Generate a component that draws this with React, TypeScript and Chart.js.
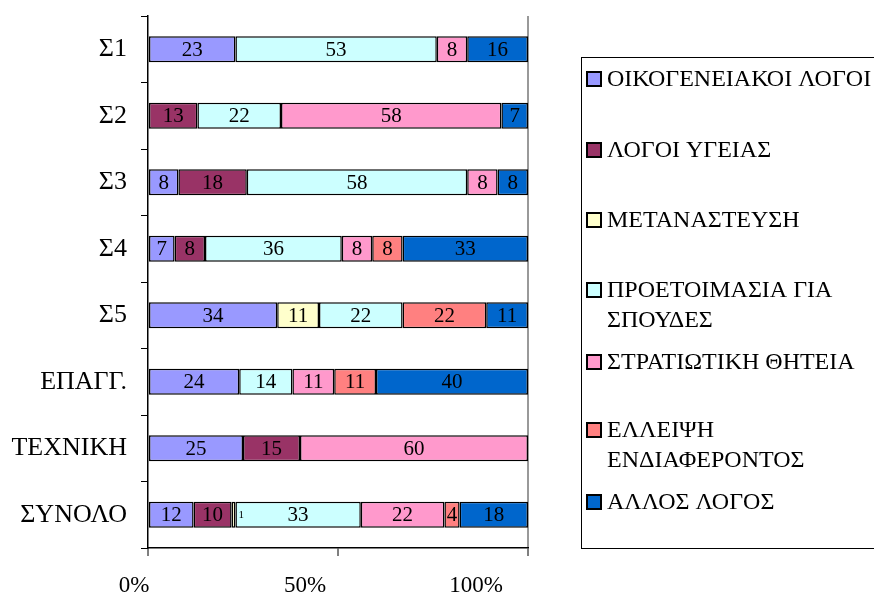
import React, { useEffect, useRef } from 'react';
import { Chart, registerables } from 'chart.js';

Chart.register(...registerables);

const categories = ['Σ1', 'Σ2', 'Σ3', 'Σ4', 'Σ5', 'ΕΠΑΓΓ.', 'ΤΕΧΝΙΚΗ', 'ΣΥΝΟΛΟ'];

const familyReasons = [23, null, 8, 7, 34, 24, 25, 12];
const healthReasons = [null, 13, 18, 8, null, null, 15, 10];
const emigration = [null, null, null, null, 11, null, null, 1];
const studyPrep = [53, 22, 58, 36, 22, 14, null, 33];
const military = [8, 58, 8, 8, null, 11, 60, 22];
const lackOfInterest = [null, null, null, 8, 22, 11, null, 4];
const otherReason = [16, 7, 8, 33, 11, 40, null, 18];

const seriesLabels: string[][] = [
  ['ΟΙΚΟΓΕΝΕΙΑΚΟΙ ΛΟΓΟΙ'],
  ['ΛΟΓΟΙ ΥΓΕΙΑΣ'],
  ['ΜΕΤΑΝΑΣΤΕΥΣΗ'],
  ['ΠΡΟΕΤΟΙΜΑΣΙΑ ΓΙΑ', 'ΣΠΟΥΔΕΣ'],
  ['ΣΤΡΑΤΙΩΤΙΚΗ ΘΗΤΕΙΑ'],
  ['ΕΛΛΕΙΨΗ', 'ΕΝΔΙΑΦΕΡΟΝΤΟΣ'],
  ['ΑΛΛΟΣ ΛΟΓΟΣ'],
];
const seriesColors = ['#9999FF', '#993366', '#FFFFCC', '#CCFFFF', '#FF99CC', '#FF8080', '#0066CC'];

const xTicks = [0, 50, 100];

const FONT = "'Liberation Serif', 'Times New Roman', serif";

const valueLabelPlugin = {
  id: 'valueLabels',
  afterDatasetsDraw(chart: any) {
    const ctx = chart.ctx;
    ctx.save();
    ctx.fillStyle = '#000';
    ctx.textBaseline = 'middle';
    chart.data.datasets.forEach((ds: any, di: number) => {
      const meta = chart.getDatasetMeta(di);
      meta.data.forEach((el: any, i: number) => {
        const v = ds.data[i];
        if (v == null) return;
        const p = el.getCenterPoint();
        const w = Math.abs(el.x - el.base);
        if (w < 10) {
          ctx.font = `11px ${FONT}`;
          ctx.textAlign = 'left';
          ctx.fillText(String(v), Math.max(el.x, el.base) + 3, p.y);
        } else {
          ctx.font = `21px ${FONT}`;
          ctx.textAlign = 'center';
          ctx.fillText(String(v), p.x, p.y + 1);
        }
      });
    });
    ctx.restore();
  },
};

const xLabelPlugin = {
  id: 'xLabels',
  afterDraw(chart: any) {
    const ctx = chart.ctx;
    const s = chart.scales.x;
    ctx.save();
    ctx.fillStyle = '#000';
    ctx.font = `23px ${FONT}`;
    ctx.textAlign = 'center';
    ctx.textBaseline = 'middle';
    xTicks.forEach((v) => {
      const px = s.getPixelForValue(v);
      ctx.fillText(v + '%', px - 14 - (v / 100) * 38, 586);
    });
    ctx.restore();
  },
};

const legendY = [79, 150, 220, 290, 362, 430, 502];

const boxLegendPlugin = {
  id: 'boxLegend',
  afterDraw(chart: any) {
    const ctx = chart.ctx;
    ctx.save();
    ctx.strokeStyle = '#000';
    ctx.lineWidth = 1;
    ctx.strokeRect(581.5, 57.5, 400, 491);
    chart.data.datasets.forEach((ds: any, i: number) => {
      const y = legendY[i];
      ctx.fillStyle = ds.backgroundColor;
      ctx.fillRect(587, y - 7, 14, 14);
      ctx.lineWidth = 2;
      ctx.strokeStyle = '#000';
      ctx.strokeRect(587, y - 7, 14, 14);
      ctx.fillStyle = '#000';
      ctx.font = `24px ${FONT}`;
      ctx.textAlign = 'left';
      ctx.textBaseline = 'middle';
      const lines: string[] = ds.labelLines;
      lines.forEach((ln, k) => ctx.fillText(ln, 607, y + 1 + k * 30));
    });
    ctx.restore();
  },
};

export default function App() {
  const ref = useRef<HTMLCanvasElement>(null);
  useEffect(() => {
    const data = [familyReasons, healthReasons, emigration, studyPrep, military, lackOfInterest, otherReason];
    const chart = new Chart(ref.current!, {
      type: 'bar',
      data: {
        labels: categories,
        datasets: data.map((d, i) => ({
          label: seriesLabels[i].join(' '),
          labelLines: seriesLabels[i],
          data: d,
          backgroundColor: seriesColors[i],
          borderColor: '#000',
          borderWidth: 1.5,
          borderSkipped: false,
          barPercentage: 0.39,
          categoryPercentage: 1,
        })) as any,
      },
      options: {
        indexAxis: 'y',
        responsive: false,
        animation: false,
        layout: { padding: { top: 16, right: 346, bottom: 0, left: 0 } },
        plugins: { legend: { display: false }, tooltip: { enabled: false } },
        scales: {
          x: {
            stacked: true,
            min: 0,
            max: 100,
            afterBuildTicks: (s: any) => {
              s.ticks = xTicks.map((v) => ({ value: v }));
            },
            afterFit: (s: any) => {
              s.height = 51;
              s.paddingLeft = 0;
              s.paddingRight = 0;
            },
            ticks: {
              display: false,
            },
            grid: {
              color: (c: any) => (c.tick && c.tick.value === 100 ? '#999' : 'rgba(0,0,0,0)'),
              lineWidth: 2,
              tickColor: '#000',
              tickLength: 8,
              tickWidth: 1,
            },
            border: { color: '#000', width: 1.5 },
          },
          y: {
            stacked: true,
            afterFit: (s: any) => {
              s.width = 148;
              s.paddingTop = 0;
              s.paddingBottom = 0;
            },
            ticks: {
              color: '#000',
              font: { family: FONT, size: 26 },
              padding: 14,
            },
            grid: {
              offset: true,
              drawOnChartArea: false,
              tickColor: '#000',
              tickLength: 7,
              tickWidth: 1,
            },
            border: { color: '#000', width: 1.5 },
          },
        },
      } as any,
      plugins: [valueLabelPlugin, xLabelPlugin, boxLegendPlugin],
    });
    return () => chart.destroy();
  }, []);
  return (
    <div style={{ position: 'absolute', left: 0, top: 0, width: 874, height: 599, background: '#fff' }}>
      <canvas ref={ref} width={874} height={599} style={{ display: 'block' }} />
    </div>
  );
}
